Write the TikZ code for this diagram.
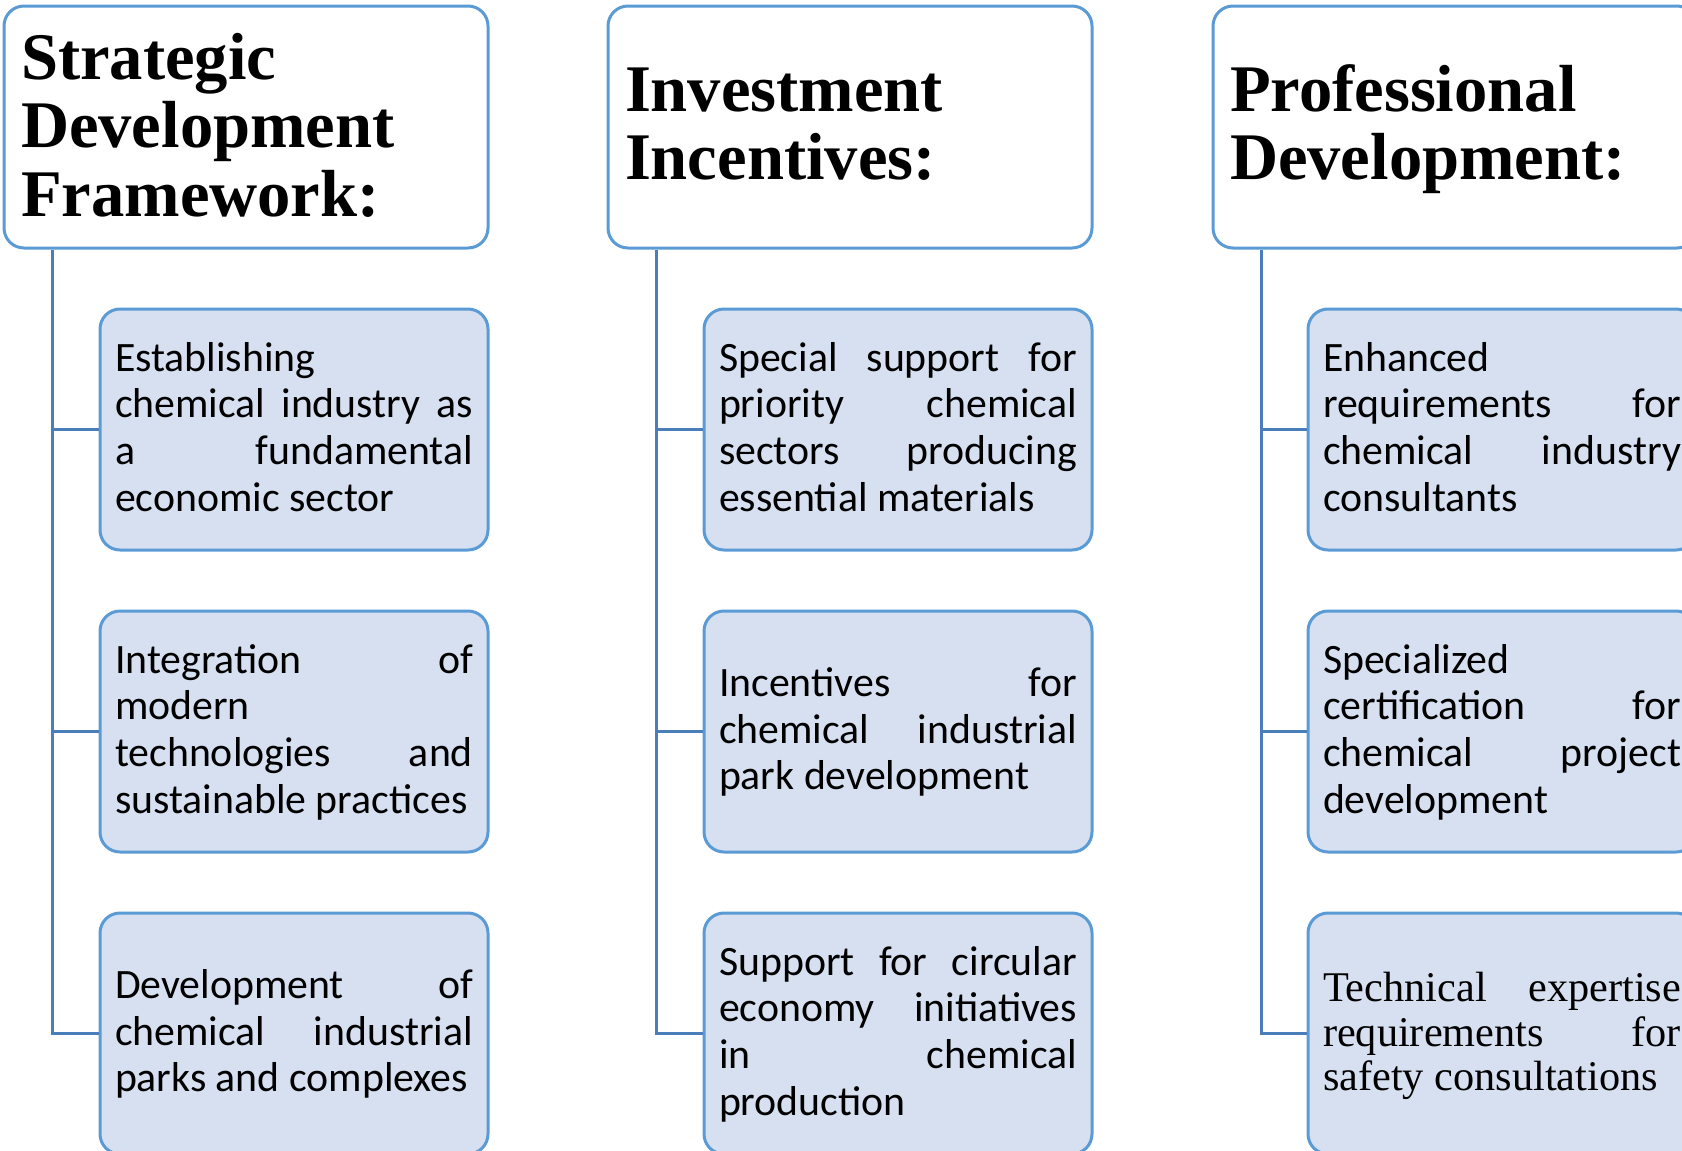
\documentclass[tikz,border=0pt]{standalone}
\usepackage{fontspec}
\setmainfont{Liberation Serif}
\newfontfamily\calfont{Carlito}
\definecolor{bordblue}{HTML}{5B9BD5}
\definecolor{spineblue}{HTML}{4A7EBB}
\definecolor{fillblue}{HTML}{D6E0F0}
\newcommand\Jl[1]{\makebox[179pt][s]{#1}\par}
\newcommand\Ll[1]{\makebox[179pt][l]{#1}\par}
\newcommand\bodytxt[1]{\parbox[t]{179pt}{\calfont\fontsize{20.9pt}{23.35pt}\selectfont #1}}
\newcommand\timestxt[1]{\parbox[t]{179pt}{\fontsize{21.15pt}{22.25pt}\selectfont #1}}
\newcommand\headtxt[1]{\parbox[t]{240pt}{\raggedright\bfseries\fontsize{33.3pt}{34.25pt}\selectfont #1}}
\tikzset{
  hbox/.style={draw=bordblue, line width=1.5pt, rounded corners=10pt, fill=white,
    minimum width=242pt, minimum height=121pt, inner sep=0pt},
  cbox/.style={draw=bordblue, line width=1.5pt, rounded corners=10pt, fill=fillblue,
    minimum width=194pt, minimum height=120.5pt, inner sep=0pt},
  txt/.style={anchor=base west, inner sep=0pt, outer sep=0pt},
  link/.style={draw=spineblue, line width=1.5pt}
}
\begin{document}
\begin{tikzpicture}[x=0.5pt, y=-0.5pt]
\useasboundingbox (0,0) rectangle (1682,1151);
\clip (0,0) rectangle (1682,1151);
% headers
\node[hbox] (h1) at (246,127) {};
\node[hbox] (h2) at (850,127) {};
\node[hbox] (h3) at (1455,127) {};
% children
\node[cbox] (c11) at (294,429.5) {};
\node[cbox] (c12) at (294,731.5) {};
\node[cbox] (c13) at (294,1033.5) {};
\node[cbox] (c21) at (898,429.5) {};
\node[cbox] (c22) at (898,731.5) {};
\node[cbox] (c23) at (898,1033.5) {};
\node[cbox] (c31) at (1502,429.5) {};
\node[cbox] (c32) at (1502,731.5) {};
\node[cbox] (c33) at (1502,1033.5) {};
% connectors
\foreach \c in {1,2,3}{
  \coordinate (s\c) at ([xshift=24.75pt]h\c.south west);
  \draw[link] (s\c) |- (c\c3.west);
  \draw[link] (c\c1.west) -- (c\c1.west -| s\c);
  \draw[link] (c\c2.west) -- (c\c2.west -| s\c);
}
% header texts
\node[txt] (ht1) at (21,79) {\headtxt{Strategic\par Development\par Framework:}};
\node[txt] (ht2) at (625,111) {\headtxt{Investment\par Incentives:}};
\node[txt] (ht3) at (1230,111) {\headtxt{Professional\par Development:}};
% body texts
\node[txt] (t11) at (115,371) {\bodytxt{\Ll{Establishing}\Jl{chemical industry as}\Jl{a fundamental}\Ll{economic sector}}};
\node[txt] (t12) at (115,673) {\bodytxt{\Jl{Integration of}\Ll{modern}\Jl{technologies and}\Ll{sustainable practices}}};
\node[txt] (t13) at (115,998.3) {\bodytxt{\Jl{Development of}\Jl{chemical industrial}\Ll{parks and complexes}}};
\node[txt] (t21) at (719,371) {\bodytxt{\Jl{Special support for}\Jl{priority chemical}\Jl{sectors producing}\Ll{essential materials}}};
\node[txt] (t22) at (719,696.3) {\bodytxt{\Jl{Incentives for}\Jl{chemical industrial}\Ll{park development}}};
\node[txt] (t23) at (719,975) {\bodytxt{\Jl{Support for circular}\Jl{economy initiatives}\Jl{in chemical}\Ll{production}}};
\node[txt] (t31) at (1323,371) {\bodytxt{\Ll{Enhanced}\Jl{requirements for}\Jl{chemical industry}\Ll{consultants}}};
\node[txt] (t32) at (1323,673) {\bodytxt{\Ll{Specialized}\Jl{certification for}\Jl{chemical project}\Ll{development}}};
\node[txt] (t33) at (1323,1001.7) {\timestxt{\Jl{Technical expertise}\Jl{requirements for}\Ll{safety consultations}}};
\end{tikzpicture}
\end{document}
